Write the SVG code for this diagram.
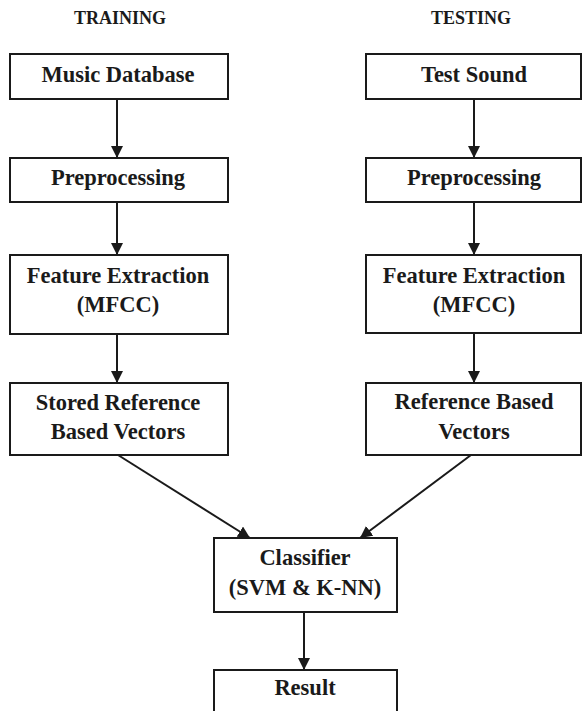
<svg xmlns="http://www.w3.org/2000/svg" width="583" height="711" viewBox="0 0 583 711">
  <style>
    .box { fill: #ffffff; stroke: #1a1a1a; stroke-width: 2; }
    .lbl { font-family: "Liberation Serif", "Times New Roman", serif; font-weight: bold; font-size: 22.5px; fill: #1a1a1a; text-anchor: middle; }
    .title { font-family: "Liberation Serif", "Times New Roman", serif; font-weight: bold; font-size: 18px; fill: #1a1a1a; text-anchor: middle; }
    .edge { stroke: #1a1a1a; stroke-width: 2; fill: none; marker-end: url(#arrow); }
  </style>
  <defs>
    <marker id="arrow" markerUnits="userSpaceOnUse" markerWidth="12" markerHeight="12" viewBox="0 0 12 12" refX="12" refY="6" orient="auto">
      <path d="M0,0 L12,6 L0,12 Z" fill="#1a1a1a"/>
    </marker>
  </defs>
  <rect width="583" height="711" fill="#ffffff"/>

  <!-- column headings -->
  <text class="title" x="120" y="24">TRAINING</text>
  <text class="title" x="471" y="24">TESTING</text>

  <!-- connectors -->
  <g id="connectors">
    <line class="edge" x1="117" y1="99" x2="117" y2="158"/>
    <line class="edge" x1="117" y1="202" x2="117" y2="255"/>
    <line class="edge" x1="117" y1="334" x2="117" y2="383"/>
    <line class="edge" x1="474" y1="99" x2="474" y2="158"/>
    <line class="edge" x1="474" y1="202" x2="474" y2="255"/>
    <line class="edge" x1="474" y1="333" x2="474" y2="383"/>
    <line class="edge" x1="118" y1="455" x2="250" y2="538"/>
    <line class="edge" x1="471" y1="455" x2="360" y2="538"/>
    <line class="edge" x1="304" y1="612" x2="304" y2="670"/>
  </g>

  <!-- training column -->
  <g id="music-database">
    <rect class="box" x="10" y="54" width="218" height="45"/>
    <text class="lbl" x="118" y="82">Music Database</text>
  </g>
  <g id="preprocessing-train">
    <rect class="box" x="10" y="158" width="218" height="44"/>
    <text class="lbl" x="118" y="185">Preprocessing</text>
  </g>
  <g id="feature-extraction-train">
    <rect class="box" x="10" y="255" width="218" height="79"/>
    <text class="lbl" x="118" y="283">Feature Extraction</text>
    <text class="lbl" x="118" y="312">(MFCC)</text>
  </g>
  <g id="stored-reference">
    <rect class="box" x="10" y="383" width="218" height="72"/>
    <text class="lbl" x="118" y="410">Stored Reference</text>
    <text class="lbl" x="118" y="439">Based Vectors</text>
  </g>

  <!-- testing column -->
  <g id="test-sound">
    <rect class="box" x="366" y="54" width="215" height="45"/>
    <text class="lbl" x="474" y="82">Test Sound</text>
  </g>
  <g id="preprocessing-test">
    <rect class="box" x="366" y="158" width="215" height="44"/>
    <text class="lbl" x="474" y="185">Preprocessing</text>
  </g>
  <g id="feature-extraction-test">
    <rect class="box" x="366" y="255" width="215" height="78"/>
    <text class="lbl" x="474" y="283">Feature Extraction</text>
    <text class="lbl" x="474" y="312">(MFCC)</text>
  </g>
  <g id="reference-vectors">
    <rect class="box" x="366" y="383" width="215" height="72"/>
    <text class="lbl" x="474" y="409">Reference Based</text>
    <text class="lbl" x="474" y="439">Vectors</text>
  </g>

  <!-- shared stages -->
  <g id="classifier">
    <rect class="box" x="214" y="538" width="183" height="74"/>
    <text class="lbl" x="305" y="565">Classifier</text>
    <text class="lbl" x="305" y="595">(SVM &amp; K-NN)</text>
  </g>
  <g id="result">
    <rect class="box" x="214" y="670" width="183" height="50"/>
    <text class="lbl" x="305" y="695">Result</text>
  </g>
</svg>
